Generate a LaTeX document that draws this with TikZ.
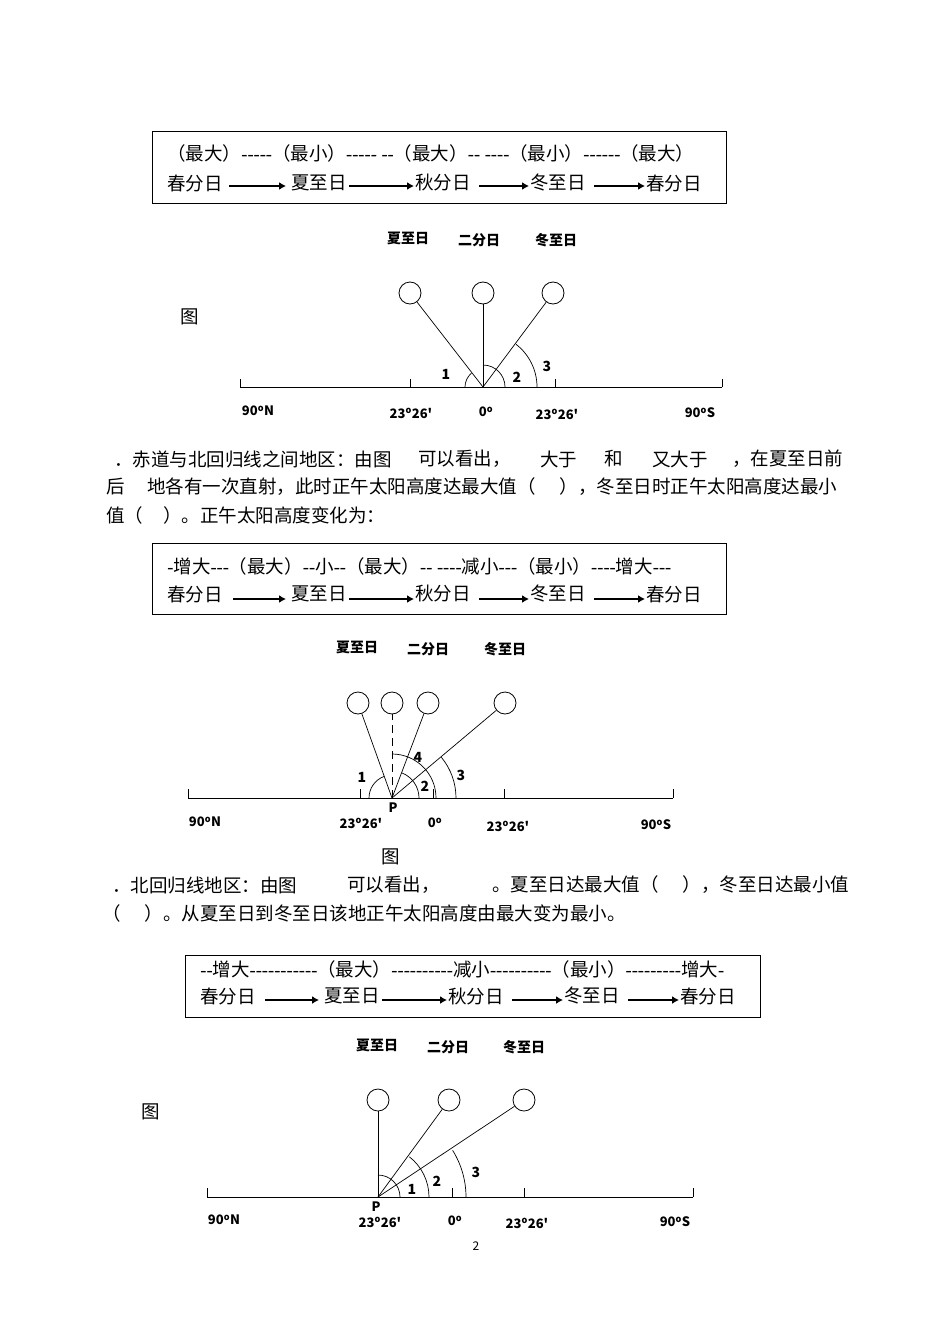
\documentclass[tikz,border=0pt]{standalone}
\usepackage{fontspec}
\setmainfont{Noto Sans CJK SC}[Ligatures=TeXOff]
\newfontfamily\lat{Liberation Serif}
\usetikzlibrary{arrows.meta}
\tikzset{
 t/.style={anchor=west,inner sep=0pt,font=\fontsize{18.5}{18.5}\selectfont},
 lb/.style={inner sep=0pt,font=\fontsize{14}{14}\selectfont\bfseries},
 ax/.style={inner sep=0pt,font=\fontsize{13}{13}\selectfont\bfseries},
 num/.style={inner sep=0pt,font=\fontsize{14}{14}\selectfont\bfseries},
 sun/.style={circle,draw,line width=0.8pt,minimum size=22pt,inner sep=0pt},
 ar/.style={line width=2pt,-{Latex[length=7pt,width=8pt]}},
 fr/.style={draw,line width=1.3pt}
}
\newcommand{\dg}{\textsuperscript{o}}
\newcommand{\dd}[1]{{\lat #1}}
\newcommand{\arcP}[4]{\draw (#1) ++(#2:#4pt) arc[start angle=#2,end angle=#3,radius=#4pt];}
\begin{document}
\begin{tikzpicture}[x=1pt,y=-1pt,line width=0.7pt]
\useasboundingbox (0,0) rectangle (950,1343);
% ---------- box 1
\node[fr,minimum width=574pt,minimum height=72pt,anchor=north west] (b1) at (152,131) {};
\node[t] (b1a) at (167,153) {（最大）\dd{-----}（最小）\dd{----- --}（最大）\dd{-- ----}（最小）\dd{------}（最大）};
\node[t] (b1s1) at (167,183) {春分日};
\node[t] (b1s2) at (291,183) {夏至日};
\node[t] (b1s3) at (415,183) {秋分日};
\node[t] (b1s4) at (530,183) {冬至日};
\node[t] (b1s5) at (646,183) {春分日};
\draw[ar] (229,186) -- (286,186);
\draw[ar] (349,186) -- (414,186);
\draw[ar] (479,186) -- (529,186);
\draw[ar] (594,186) -- (645,186);
\node[lb] (l11) at (408,238) {夏至日};
\node[lb] (l12) at (479,240) {二分日};
\node[lb] (l13) at (556,240) {冬至日};
\node[t] (f1) at (180,317) {图};
% diagram 1
\coordinate (P1) at (483,387);
\draw (240,387) coordinate (a1) -- (722,387) coordinate (a2);
\foreach \x in {240,410,555,722} \draw (\x,387) -- (\x,379);
\node[sun] (s11) at (410,293) {};
\node[sun] (s12) at (483,293) {};
\node[sun] (s13) at (553,293) {};
\draw (P1) -- (s11); \draw (P1) -- (s12); \draw (P1) -- (s13);
\arcP{P1}{129.8}{180}{18}
\arcP{P1}{90}{0}{22}
\arcP{P1}{52.3}{0}{54}
\node[num] (n11) at (446,374) {1};
\node[num] (n12) at (517,377) {2};
\node[num] (n13) at (547,366) {3};
\node[ax] (x11) at (258,411) {90\dg N};
\node[ax] (x12) at (411,413) {23\dg 26'};
\node[ax] (x13) at (486,412) {0\dg};
\node[ax] (x14) at (557,414) {23\dg 26'};
\node[ax] (x15) at (700,413) {90\dg S};
% paragraph 1
\node[t] at (114,459) {．赤道与北回归线之间地区：由图};
\node[t] at (418,459) {可以看出，};
\node[t] at (540,459) {大于};
\node[t] at (604,459) {和};
\node[t] at (652,459) {又大于};
\node[t] at (732,459) {，在夏至日前};
\node[t] at (106,487) {后};
\node[t] at (147,487) {地各有一次直射，此时正午太阳高度达最大值（\hspace{24pt}），冬至日时正午太阳高度达最小};
\node[t] at (106,515) {值（\hspace{20pt}）。正午太阳高度变化为：};
% ---------- box 2
\node[fr,minimum width=574pt,minimum height=71pt,anchor=north west] (b2) at (152,543) {};
\node[t] (b2a) at (167,566) {\dd{-}增大\dd{---}（最大）\dd{--}小\dd{--}（最大）\dd{-- ----}减小\dd{---}（最小）\dd{----}增大\dd{---}};
\node[t] (b2s1) at (167,594) {春分日};
\node[t] (b2s2) at (291,594) {夏至日};
\node[t] (b2s3) at (415,594) {秋分日};
\node[t] (b2s4) at (530,594) {冬至日};
\node[t] (b2s5) at (646,594) {春分日};
\draw[ar] (233,599) -- (286,599);
\draw[ar] (349,599) -- (414,599);
\draw[ar] (479,599) -- (529,599);
\draw[ar] (594,599) -- (645,599);
\node[lb] (l21) at (357,647) {夏至日};
\node[lb] (l22) at (428,649) {二分日};
\node[lb] (l23) at (505,649) {冬至日};
% diagram 2
\coordinate (P2) at (392,798);
\draw (188,798) -- (673,798);
\foreach \x in {188,360,433,504,673} \draw (\x,798) -- (\x,789);
\node[sun] (s21) at (358,703) {};
\node[sun] (s22) at (392,703) {};
\node[sun] (s23) at (428,703) {};
\node[sun] (s24) at (505,703) {};
\draw (P2) -- (s21); \draw[dashed,dash pattern=on 8pt off 5pt] (P2) -- (s22); \draw (P2) -- (s23); \draw (P2) -- (s24);
\arcP{P2}{110.4}{180}{23}
\arcP{P2}{90}{0}{44}
\arcP{P2}{68.8}{0}{27}
\arcP{P2}{39.6}{0}{64}
\node[num] (n21) at (362,777) {1};
\node[num] (n22) at (425,786) {2};
\node[num] (n23) at (461,775) {3};
\node[num] (n24) at (418,757) {4};
\node[ax] (p2) at (393,808) {P};
\node[ax] (x21) at (205,822) {90\dg N};
\node[ax] (x22) at (361,823) {23\dg 26'};
\node[ax] (x23) at (435,823) {0\dg};
\node[ax] (x24) at (508,826) {23\dg 26'};
\node[ax] (x25) at (656,825) {90\dg S};
\node[t] at (381,857) {图};
% paragraph 2
\node[t] at (112,885) {．北回归线地区：由图};
\node[t] at (347,885) {可以看出，};
\node[t] at (492,885) {。夏至日达最大值（\hspace{24pt}），冬至日达最小值};
\node[t] at (102,913) {（\hspace{24pt}）。从夏至日到冬至日该地正午太阳高度由最大变为最小。};
% ---------- box 3
\node[fr,minimum width=575pt,minimum height=62pt,anchor=north west] (b3) at (185,955) {};
\node[t] (b3a) at (200,969) {\dd{--}增大\dd{-----------}（最大）\dd{----------}减小\dd{----------}（最小）\dd{---------}增大\dd{-}};
\node[t] (b3s1) at (200,996) {春分日};
\node[t] (b3s2) at (324,996) {夏至日};
\node[t] (b3s3) at (448,996) {秋分日};
\node[t] (b3s4) at (564,996) {冬至日};
\node[t] (b3s5) at (680,996) {春分日};
\draw[ar] (265,1000) -- (319,1000);
\draw[ar] (382,1000) -- (447,1000);
\draw[ar] (512,1000) -- (563,1000);
\draw[ar] (628,1000) -- (679,1000);
\node[lb] (l31) at (377,1045) {夏至日};
\node[lb] (l32) at (448,1047) {二分日};
\node[lb] (l33) at (524,1047) {冬至日};
\node[t] at (141,1112) {图};
% diagram 3
\coordinate (P3) at (378,1197);
\draw (207,1197) -- (693,1197);
\foreach \x in {207,452,524,693} \draw (\x,1197) -- (\x,1188);
\node[sun] (s31) at (378,1100) {};
\node[sun] (s32) at (449,1100) {};
\node[sun] (s33) at (524,1100) {};
\draw (P3) -- (s31); \draw (P3) -- (s32); \draw (P3) -- (s33);
\arcP{P3}{90}{0}{22}
\arcP{P3}{52.1}{0}{51}
\arcP{P3}{32}{0}{88}
\node[num] (n31) at (412,1189) {1};
\node[num] (n32) at (437,1181) {2};
\node[num] (n33) at (476,1172) {3};
\node[ax] (p3) at (376,1207) {P};
\node[ax] (x31) at (224,1220) {90\dg N};
\node[ax] (x32) at (380,1222) {23\dg 26'};
\node[ax] (x33) at (455,1221) {0\dg};
\node[ax] (x34) at (527,1223) {23\dg 26'};
\node[ax] (x35) at (675,1222) {90\dg S};
\node[inner sep=0pt,font=\fontsize{12}{12}\selectfont] (pg) at (476,1246) {2};
\end{tikzpicture}
\end{document}
